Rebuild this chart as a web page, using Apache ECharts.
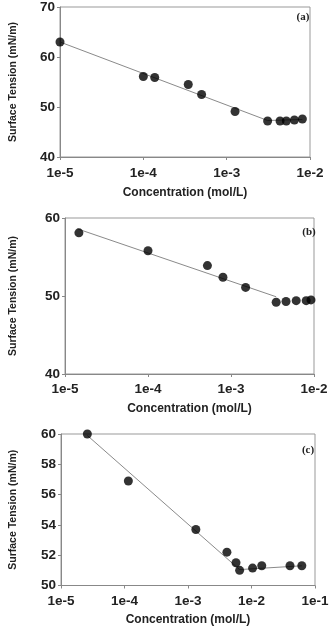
<!DOCTYPE html>
<html>
<head>
<meta charset="utf-8">
<script src="https://cdn.jsdelivr.net/npm/echarts@6/dist/echarts.min.js"></script>
<style>
    html, body { margin: 0; padding: 0; background: #fff; }
    #main { width: 332px; height: 627px; }
</style>
</head>
<body>
<div id="main"></div>
<script>
// 数据 (a)
var concA = [1e-5, 1e-4, 1.37e-4, 3.46e-4, 5e-4, 1.26e-3, 3.1e-3, 4.37e-3, 5.2e-3, 6.5e-3, 8.1e-3];
var tensionA = [63, 56.1, 55.9, 54.5, 52.5, 49.1, 47.2, 47.2, 47.2, 47.4, 47.6];
var fitA = [[1e-5, 63], [3.1e-3, 47.3], [8.1e-3, 47.5]];
// 数据 (b)
var concB = [1.47e-5, 1e-4, 5.2e-4, 8e-4, 1.5e-3, 3.5e-3, 4.6e-3, 6.1e-3, 8.05e-3, 9.2e-3];
var tensionB = [58.1, 55.8, 53.9, 52.4, 51.1, 49.2, 49.3, 49.4, 49.4, 49.5];
var fitB = [[1.42e-5, 58.6], [3.5e-3, 49.9]];
// 数据 (c)
var concC = [2.6e-5, 1.15e-4, 1.33e-3, 4.1e-3, 5.7e-3, 6.5e-3, 1.04e-2, 1.45e-2, 4.04e-2, 6.2e-2];
var tensionC = [60, 56.9, 53.7, 52.2, 51.5, 51.0, 51.15, 51.3, 51.3, 51.3];
var fitC = [[2.6e-5, 59.9], [6.5e-3, 51.05], [6.2e-2, 51.3]];
// 坐标轴刻度
var xRange = [[1e-5, 1e-2], [1e-5, 1e-2], [1e-5, 1e-1]];
var yRange = [[40, 70, 10], [40, 60, 10], [50, 60, 2]];
var panelNames = ['(a)', '(b)', '(c)'];

function pairs(xs, ys) {
    return xs.map(function(x, i) { return [x, ys[i]]; });
}

(function() {
    var myChart = echarts.init(document.getElementById('main'));
    var font = 'Liberation Sans, Arial, sans-serif';
    var grids = [
        { left: 54, top: 2, width: 256, height: 155 },
        { left: 59, top: 218, width: 255, height: 156 },
        { left: 55, top: 434, width: 260, height: 153 }
    ];
    var yGaps = [41, 46, 42];
    var xLabelMargin = [9, 8, 8.5];
    var xNameGap = [30, 28.5, 28.5];
    var titlePos = [[298, 12], [304, 227], [303, 445]];

    var xAxis = [], yAxis = [], series = [], titles = [];
    var fits = [fitA, fitB, fitC];
    var pts = [pairs(concA, tensionA), pairs(concB, tensionB), pairs(concC, tensionC)];

    grids.forEach(function(g, i) {
        g.show = true;
        g.borderColor = '#999';
        g.borderWidth = 1;
        g.containLabel = false;
        xAxis.push({
            gridIndex: i,
            type: 'log',
            logBase: 10,
            min: xRange[i][0],
            max: xRange[i][1],
            name: 'Concentration (mol/L)',
            nameLocation: 'middle',
            nameGap: xNameGap[i],
            nameTextStyle: { fontFamily: font, fontWeight: 'bold', fontSize: 12, color: '#222' },
            axisLine: { lineStyle: { color: '#888' } },
            axisTick: { length: 3, lineStyle: { color: '#888' } },
            splitLine: { show: false },
            axisLabel: {
                fontFamily: font, fontWeight: 'bold', fontSize: 13.5, color: '#222', margin: xLabelMargin[i],
                formatter: function(v) { return '1e' + Math.round(Math.log10(v)); }
            }
        });
        yAxis.push({
            gridIndex: i,
            type: 'value',
            min: yRange[i][0],
            max: yRange[i][1],
            interval: yRange[i][2],
            name: 'Surface Tension (mN/m)',
            nameLocation: 'middle',
            nameGap: yGaps[i],
            nameTextStyle: { fontFamily: font, fontWeight: 'bold', fontSize: 10.5, color: '#222' },
            axisLine: { show: true, lineStyle: { color: '#888' } },
            axisTick: { show: true, length: 3, lineStyle: { color: '#888' } },
            splitLine: { show: false },
            axisLabel: { fontFamily: font, fontWeight: 'bold', fontSize: 13.5, color: '#222', margin: 5 }
        });
        series.push({
            type: 'line',
            xAxisIndex: i,
            yAxisIndex: i,
            data: fits[i],
            showSymbol: false,
            silent: true,
            lineStyle: { color: '#8a8a8a', width: 1 },
            z: 1
        });
        series.push({
            type: 'scatter',
            xAxisIndex: i,
            yAxisIndex: i,
            data: pts[i],
            symbolSize: 9,
            itemStyle: { color: '#000' },
            z: 2
        });
        titles.push({
            text: panelNames[i],
            left: titlePos[i][0],
            top: titlePos[i][1],
            textAlign: 'center',
            textVerticalAlign: 'middle',
            textStyle: { fontFamily: 'Liberation Serif, Times New Roman, serif', fontWeight: 'bold', fontSize: 11, color: '#222' }
        });
    });

    var option = {
        animation: false,
        backgroundColor: '#fff',
        title: titles,
        grid: grids,
        xAxis: xAxis,
        yAxis: yAxis,
        series: series
    };
    myChart.setOption(option);
})();
</script>
</body>
</html>
